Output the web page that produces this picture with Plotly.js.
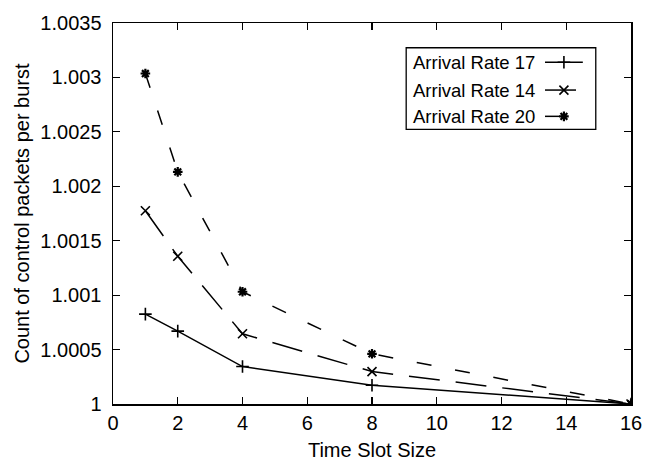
<!DOCTYPE html>
<html>
<head>
<meta charset="utf-8">
<script src="https://cdn.plot.ly/plotly-3.0.1.min.js"></script>
<style>html,body{margin:0;padding:0;background:#fff;}#chart{width:655px;height:461px;}</style>
</head>
<body>
<div id="chart"></div>
<script>
// ---- data ----
const slotSizes = [1, 2, 4, 8, 16];
const rate17 = [1.000826, 1.000669, 1.000344, 1.000172, 1.0];
const rate14 = [1.001775, 1.001357, 1.000645, 1.000298, 1.0];
const rate20 = [1.003036, 1.002132, 1.001031, 1.000461, 1.0];
const seriesNames = ['Arrival Rate 17', 'Arrival Rate 14', 'Arrival Rate 20'];
const xTicks = [0, 2, 4, 6, 8, 10, 12, 14, 16];
const yTickVals = [1, 1.0005, 1.001, 1.0015, 1.002, 1.0025, 1.003, 1.0035];
const yTickText = ['1', '1.0005', '1.001', '1.0015', '1.002', '1.0025', '1.003', '1.0035'];

const FONT = 'Liberation Sans, Arial, Helvetica, sans-serif';
const styles = [
  {dash: 'solid', symbol: 'cross-thin-open', size: 9, lw: 1.6},
  {dash: '31px,16px', symbol: 'x-thin-open', size: 9, lw: 1.6},
  {dash: '15px,24px', symbol: 'asterisk-open', size: 8, lw: 2.2}
];
const seriesY = [rate17, rate14, rate20];

const traces = [];
seriesY.forEach((ys, i) => {
  traces.push({
    x: slotSizes, y: ys, name: seriesNames[i], type: 'scatter', mode: 'lines+markers',
    line: {color: '#000', width: 1.5, dash: styles[i].dash},
    marker: {symbol: styles[i].symbol, size: styles[i].size, color: '#000',
             line: {color: '#000', width: styles[i].lw}},
    showlegend: false, hoverinfo: 'x+y'
  });
});

// custom legend (text on the left, sample on the right, like the original)
const legendRowsY = [0.897, 0.824, 0.755];
const sampleX0 = 0.834, sampleX1 = 0.907;
legendRowsY.forEach((ry, i) => {
  traces.push({
    x: [sampleX0, sampleX1], y: [ry, ry], xaxis: 'x2', yaxis: 'y2', type: 'scatter', mode: 'lines',
    line: {color: '#000', width: 1.5, dash: styles[i].dash}, showlegend: false, hoverinfo: 'skip'
  });
  traces.push({
    x: [(sampleX0 + sampleX1) / 2], y: [ry], xaxis: 'x2', yaxis: 'y2', type: 'scatter', mode: 'markers',
    marker: {symbol: styles[i].symbol, size: styles[i].size, color: '#000', line: {color: '#000', width: styles[i].lw}},
    showlegend: false, hoverinfo: 'skip'
  });
});

const annotations = seriesNames.map((n, i) => ({
  text: n, xref: 'paper', yref: 'paper', x: 0.8185, y: legendRowsY[i],
  xanchor: 'right', yanchor: 'middle', showarrow: false,
  font: {family: FONT, size: 18.5, color: '#000'}
}));

const layout = {
  width: 655, height: 461,
  margin: {l: 113, r: 24, t: 17, b: 57},
  paper_bgcolor: '#fff', plot_bgcolor: '#fff',
  font: {family: FONT, size: 20, color: '#000'},
  showlegend: false,
  xaxis: {
    range: [0, 16], tickvals: xTicks, ticks: 'inside', ticklen: 7, tickwidth: 1.2, tickcolor: '#000',
    showline: true, linecolor: '#000', linewidth: 1.5, mirror: 'ticks', showgrid: false, zeroline: false,
    automargin: false,
    tickfont: {family: FONT, size: 20, color: '#000'},
    title: {text: 'Time Slot Size', font: {family: FONT, size: 20, color: '#000'}}
  },
  yaxis: {
    range: [1, 1.0035], tickvals: yTickVals, ticktext: yTickText, ticks: 'inside', ticklen: 7, tickwidth: 1.2,
    tickcolor: '#000', showline: true, linecolor: '#000', linewidth: 1.5, mirror: 'ticks', showgrid: false,
    zeroline: false, ticklabelstandoff: 6, automargin: true,
    tickfont: {family: FONT, size: 20, color: '#000'},
    title: {text: 'Count of control packets per burst', font: {family: FONT, size: 20, color: '#000'}, standoff: 5}
  },
  xaxis2: {overlaying: 'x', range: [0, 1], visible: false, fixedrange: true},
  yaxis2: {overlaying: 'y', range: [0, 1], visible: false, fixedrange: true},
  shapes: [{
    type: 'rect', xref: 'paper', yref: 'paper', x0: 0.566, x1: 0.932, y0: 0.721, y1: 0.935,
    line: {color: '#000', width: 1.3}, fillcolor: 'rgba(0,0,0,0)'
  }],
  annotations: annotations
};

Plotly.newPlot('chart', traces, layout, {displayModeBar: false, staticPlot: true});
</script>
</body>
</html>
